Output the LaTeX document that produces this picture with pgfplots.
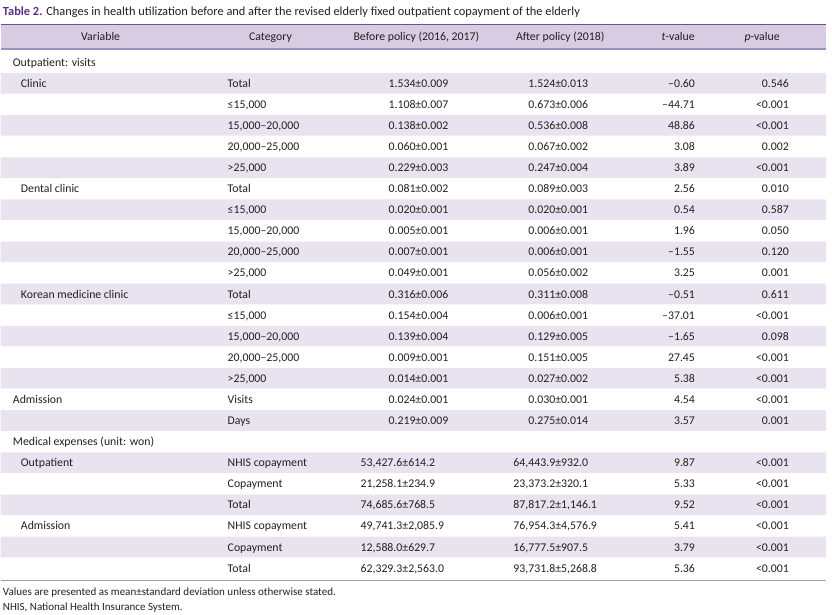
\documentclass[border=0pt]{standalone}
\usepackage{fontspec}
\setmainfont{Carlito}
\usepackage{xcolor}
\usepackage{pgfplots}
\usepackage{pgfplotstable}
\pgfplotsset{compat=1.18}

\definecolor{titlepurple}{HTML}{5E2E86}
\definecolor{headtop}{HTML}{6C4F8E}
\definecolor{headfill}{HTML}{D7CCE2}
\definecolor{headbot}{HTML}{A38CC0}
\definecolor{rowshade}{HTML}{E8E3EF}
\definecolor{botrule}{HTML}{A895C2}
\definecolor{ink}{HTML}{231F20}

% k = row index, y = 83.3 + 21.1*k (pixels from top)
\pgfplotstableread[col sep=semicolon]{
k;vx;var;cat;bx;before;ax;after;t;p
-1;12;Outpatient: visits;;388;;528;;;
0;20;Clinic;Total;388;1.534±0.009;528;1.524±0.013;–0.60;0.546
1;20;;≤15,000;388;1.108±0.007;528;0.673±0.006;–44.71;<0.001
2;20;;15,000–20,000;388;0.138±0.002;528;0.536±0.008;48.86;<0.001
3;20;;20,000–25,000;388;0.060±0.001;528;0.067±0.002;3.08;0.002
4;20;;>25,000;388;0.229±0.003;528;0.247±0.004;3.89;<0.001
5;20;Dental clinic;Total;388;0.081±0.002;528;0.089±0.003;2.56;0.010
6;20;;≤15,000;388;0.020±0.001;528;0.020±0.001;0.54;0.587
7;20;;15,000–20,000;388;0.005±0.001;528;0.006±0.001;1.96;0.050
8;20;;20,000–25,000;388;0.007±0.001;528;0.006±0.001;–1.55;0.120
9;20;;>25,000;388;0.049±0.001;528;0.056±0.002;3.25;0.001
10;20;Korean medicine clinic;Total;388;0.316±0.006;528;0.311±0.008;–0.51;0.611
11;20;;≤15,000;388;0.154±0.004;528;0.006±0.001;–37.01;<0.001
12;20;;15,000–20,000;388;0.139±0.004;528;0.129±0.005;–1.65;0.098
13;20;;20,000–25,000;388;0.009±0.001;528;0.151±0.005;27.45;<0.001
14;20;;>25,000;388;0.014±0.001;528;0.027±0.002;5.38;<0.001
15;12;Admission;Visits;388;0.024±0.001;528;0.030±0.001;4.54;<0.001
16;12;;Days;388;0.219±0.009;528;0.275±0.014;3.57;0.001
17;12;Medical expenses (unit: won);;360;;513;;;
18;20;Outpatient;NHIS copayment;360;53,427.6±614.2;513;64,443.9±932.0;9.87;<0.001
19;20;;Copayment;360;21,258.1±234.9;513;23,373.2±320.1;5.33;<0.001
20;20;;Total;360;74,685.6±768.5;513;87,817.2±1,146.1;9.52;<0.001
21;20;Admission;NHIS copayment;360;49,741.3±2,085.9;513;76,954.3±4,576.9;5.41;<0.001
22;20;;Copayment;360;12,588.0±629.7;513;16,777.5±907.5;3.79;<0.001
23;20;;Total;360;62,329.3±2,563.0;513;93,731.8±5,268.8;5.36;<0.001
}\rows

% shaded rows: row index and right edge of the band
\pgfplotstableread{
k w
0 826
2 826
4 826
6 826
8 826
10 826
12 826
14 826
16 826
18 826
20 826
22 826
}\shaded

\pgfplotstableread[col sep=semicolon]{
x;label
100;Variable
270;Category
416;Before policy (2016, 2017)
560;After policy (2018)
678;\textit{t}-value
762;\textit{p}-value
}\heads

\pgfplotsset{
  celltext/.style={only marks, mark=none, nodes near coords,
    point meta=explicit symbolic,
    every node near coord/.append style={anchor=#1, inner sep=0pt, text=ink,
      font=\fontsize{11.8}{14}\selectfont}},
}

\begin{document}
\begin{tikzpicture}
\begin{axis}[
  width=832pt, height=615pt, scale only axis,
  xmin=0, xmax=832, ymin=0, ymax=615, y dir=reverse,
  axis lines=none, clip=false]

% keep the whole page area in the bounding box
\path (axis cs:0,0) rectangle (axis cs:832,615);

% row shading
\addplot[xbar, bar shift=0pt, bar width=20.6, draw=none, fill=rowshade]
  table[x=w, y expr=83.3+21.1*\thisrow{k}] {\shaded};

% header band and rules
\fill[headfill] (axis cs:0,24.5) rectangle (axis cs:826,48.5);
\draw[headtop, line width=1.5pt] (axis cs:0,24.5) -- (axis cs:826,24.5);
\draw[headbot, line width=1.5pt] (axis cs:0,49) -- (axis cs:826,49);
\draw[botrule, line width=1.5pt] (axis cs:0,581) -- (axis cs:826,581);

% header text
\addplot[celltext=base] table[x=x, y expr=41, meta=label] {\heads};

% body cells
\addplot[celltext=base west] table[x=vx, y expr=87.3+21.1*\thisrow{k}, meta=var] {\rows};
\addplot[celltext=base west] table[x expr=227, y expr=87.3+21.1*\thisrow{k}, meta=cat] {\rows};
\addplot[celltext=base west] table[x=bx, y expr=87.3+21.1*\thisrow{k}, meta=before] {\rows};
\addplot[celltext=base west] table[x=ax, y expr=87.3+21.1*\thisrow{k}, meta=after] {\rows};
\addplot[celltext=base east] table[x expr=695, y expr=87.3+21.1*\thisrow{k}, meta=t] {\rows};
\addplot[celltext=base east] table[x expr=789, y expr=87.3+21.1*\thisrow{k}, meta=p] {\rows};

% title and notes
\node[anchor=base west, inner sep=0pt, text=ink, font=\fontsize{12.4}{14}\selectfont]
  at (axis cs:2,15.5) {\textcolor{titlepurple}{\bfseries Table 2.} Changes in health utilization before and after the revised elderly fixed outpatient copayment of the elderly};
\node[anchor=base west, inner sep=0pt, text=ink, font=\fontsize{11}{13}\selectfont]
  at (axis cs:2,596) {Values are presented as mean±standard deviation unless otherwise stated.};
\node[anchor=base west, inner sep=0pt, text=ink, font=\fontsize{11}{13}\selectfont]
  at (axis cs:2,611) {NHIS, National Health Insurance System.};
\end{axis}
\end{tikzpicture}
\end{document}
